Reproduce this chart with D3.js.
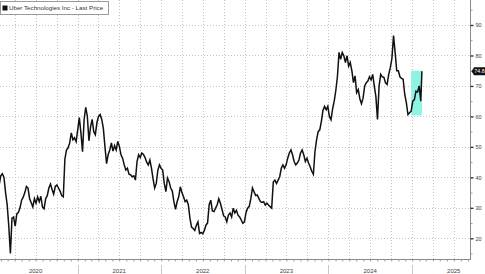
<!DOCTYPE html>
<html>
<head>
<meta charset="utf-8">
<script src="https://cdn.jsdelivr.net/npm/d3@7/dist/d3.min.js"></script>
<style>
  body { margin: 0; background: #fff; }
  svg { display: block; font-family: "Liberation Sans", Arial, sans-serif; }
</style>
</head>
<body>
<div id="chart"></div>
<script>
// weekly closes (fridays), first week = 24 jan 2020
var firstWeek = "2020-01-24";
var p2020 = [37.5, 40.5, 41.2, 40, 35, 31, 24, 15, 26.6, 27, 24, 28, 28.5, 30, 32.5, 33.5, 35, 37,
  36.5, 33, 31.7, 30.3, 33, 31.5, 33.6, 32, 33.8, 30.3, 29.7, 33, 34, 36.5, 37.8, 36, 34.5, 37,
  37.5, 36.5, 35.5, 34, 33.6, 46, 49, 49.7, 51.3, 54.6, 52.3, 53, 51.7];
var p2021 = [55.6, 59.6, 54.6, 48.4, 59, 63, 60, 52, 56.6, 59, 55, 54, 58, 60, 60.6, 59, 56, 50,
  44.5, 47.5, 49, 51.3, 48.6, 50.4, 49, 51.8, 50.1, 47.4, 46.3, 44.1, 42.4, 43, 41, 40.8, 40.2,
  40.5, 39.1, 45.2, 47.4, 46.5, 48, 47.5, 46.5, 45, 44.1, 45.7, 43, 39.5, 36.5, 38, 42.4, 44.1, 43];
var p2022 = [42.4, 38, 35.3, 39.8, 38.6, 36.5, 35.5, 32, 29.5, 32, 33.6, 36.9, 35, 33.6, 32, 32.5,
  31, 26.6, 23.7, 23.2, 22.6, 24.3, 25.4, 21.6, 21.9, 21.5, 22.6, 24.3, 25, 31, 32.5, 29, 28.8,
  29.9, 31, 33, 31.5, 29.5, 27.4, 27, 25.4, 27.6, 28.3, 27, 29.9, 28.3, 29.2, 27.6, 27, 26, 24.9, 25.4];
var p2023 = [28.5, 29.9, 30.5, 33, 36.5, 35.3, 34, 34.2, 33.1, 32, 31.8, 32, 30.9, 31.5, 30.9, 30.4,
  29.9, 38.5, 39.1, 38, 39.1, 40.2, 43, 44.1, 43, 44.1, 46.3, 48, 49, 47.4, 45.2, 44.1, 44.7, 45.7,
  48, 49, 47.4, 45.2, 46.3, 44.7, 43.5, 42, 41, 48.5, 52.3, 55, 55.6, 58.4, 62, 63.3, 62.2, 63.3];
var p2024 = [60, 58.9, 62.5, 65, 68.5, 73, 81, 78.7, 81, 79.9, 77.7, 79.9, 76.5, 77.7, 75, 71.1,
  73.3, 67.8, 68.8, 65.8, 64.2, 66, 70, 71.1, 71.6, 73, 72, 73.8, 70, 66.5, 59, 70, 73.8, 73, 72.8,
  71, 70.5, 73.8, 76, 79, 86.5, 81, 75, 75, 73, 72.5, 72.2, 67.2, 64.5, 60.6, 61.2, 61.7];
var p2025 = [65, 65.5, 68.3, 68, 70, 65];
var lastDate = "2025-02-12";
var lastPrice = 74.8;

var yTicks = [20, 30, 40, 50, 60, 70, 80, 90];
var years = [2020, 2021, 2022, 2023, 2024, 2025];
var highlightDates = ["2024-12-27", "2025-02-12"];
var highlightRange = [60.3, 75];
var seriesName = "Uber Technologies Inc - Last Price";

// dimensions
var W = 485, H = 274;
var plotRight = 470, plotBottom = 259;

var svg = d3.select("#chart")
  .append("svg")
  .attr("width", W)
  .attr("height", H);

var parse = d3.timeParse("%Y-%m-%d");
var start = parse(firstWeek);
var prices = [].concat(p2020, p2021, p2022, p2023, p2024, p2025);
var data = prices.map(function (v, i) {
  return { date: d3.timeDay.offset(start, 7 * i), value: v };
});
data.push({ date: parse(lastDate), value: lastPrice });

// scales
var x = d3.scaleTime()
  .domain([new Date(2020, 0, 1), new Date(2025, 0, 1)])
  .range([-6.1, 412.3]);
var y = d3.scaleLinear()
  .domain([20, 90])
  .range([238.3, 25]);

svg.append("clipPath").attr("id", "plot")
  .append("rect").attr("width", plotRight).attr("height", plotBottom);

// grid
var grid = svg.append("g")
  .attr("stroke", "#c4c4c4")
  .attr("stroke-width", 1)
  .attr("stroke-dasharray", "1,2");
grid.selectAll(".hg")
  .data(yTicks)
  .enter().append("line")
  .attr("x1", 0).attr("x2", plotRight)
  .attr("y1", function (d) { return Math.round(y(d)) + 0.5; })
  .attr("y2", function (d) { return Math.round(y(d)) + 0.5; });
var quarters = d3.timeMonth.every(3).range(new Date(2020, 3, 1), new Date(2025, 9, 1))
  .filter(function (d) { return x(d) > 0 && x(d) < plotRight; });
grid.selectAll(".vg")
  .data(quarters)
  .enter().append("line")
  .attr("y1", 0).attr("y2", plotBottom)
  .attr("x1", function (d) { return Math.round(x(d)) + 0.5; })
  .attr("x2", function (d) { return Math.round(x(d)) + 0.5; });

// highlighted period
svg.append("rect")
  .attr("x", x(parse(highlightDates[0])))
  .attr("width", x(parse(highlightDates[1])) - x(parse(highlightDates[0])))
  .attr("y", y(highlightRange[1]))
  .attr("height", y(highlightRange[0]) - y(highlightRange[1]))
  .attr("fill", "#8ef3e3");

// price line
svg.append("path")
  .datum(data)
  .attr("clip-path", "url(#plot)")
  .attr("fill", "none")
  .attr("stroke", "#111")
  .attr("stroke-width", 1.5)
  .attr("stroke-linejoin", "miter")
  .attr("d", d3.line()
    .x(function (d) { return x(d.date); })
    .y(function (d) { return y(d.value); }));

// right axis
svg.append("line")
  .attr("x1", plotRight + 0.5).attr("x2", plotRight + 0.5)
  .attr("y1", 0).attr("y2", plotBottom)
  .attr("stroke", "#8a8a8a");
var yAxis = svg.append("g")
  .attr("transform", "translate(" + (plotRight + 0.5) + ",0)")
  .call(d3.axisRight(y).tickValues(yTicks).tickSize(3).tickPadding(2));
yAxis.select(".domain").remove();
yAxis.selectAll(".tick line").attr("stroke", "#333").attr("stroke-width", 1.4);
yAxis.selectAll(".tick text")
  .attr("font-size", 5.6)
  .attr("font-family", "Liberation Sans, Arial, sans-serif")
  .attr("fill", "#444");
var minorY = svg.append("g")
  .attr("transform", "translate(" + (plotRight + 0.5) + ",0)")
  .call(d3.axisRight(y).tickValues(d3.range(15, 100, 10)).tickSize(2).tickFormat(""));
minorY.select(".domain").remove();
minorY.selectAll(".tick line").attr("stroke", "#999");

// bottom axis
svg.append("line")
  .attr("x1", 0).attr("x2", plotRight + 1)
  .attr("y1", plotBottom + 0.5).attr("y2", plotBottom + 0.5)
  .attr("stroke", "#8a8a8a");
var months = d3.timeMonth.every(1).range(new Date(2020, 0, 1), new Date(2025, 9, 1))
  .filter(function (d) { return x(d) > 0 && x(d) < plotRight; });
var xAxis = svg.append("g")
  .attr("transform", "translate(0," + (plotBottom + 0.5) + ")")
  .call(d3.axisBottom(x).tickValues(months).tickSize(2).tickFormat(""));
xAxis.select(".domain").remove();
xAxis.selectAll(".tick line").attr("stroke", "#999");

// year labels and separators
svg.selectAll(".ysep")
  .data(years.slice(1))
  .enter().append("line")
  .attr("x1", function (d) { return Math.round(x(new Date(d, 0, 1))) + 0.5; })
  .attr("x2", function (d) { return Math.round(x(new Date(d, 0, 1))) + 0.5; })
  .attr("y1", 265).attr("y2", 274)
  .attr("stroke", "#c8c8c8");
svg.selectAll(".ylab")
  .data(years)
  .enter().append("text")
  .attr("x", function (d) { return x(new Date(d, 6, 1)); })
  .attr("y", 272.5)
  .attr("text-anchor", "middle")
  .attr("font-size", 6)
  .attr("fill", "#444")
  .text(function (d) { return d; });

// last price tag
var ly = y(lastPrice);
svg.append("path")
  .attr("d", "M" + (plotRight + 1.5) + "," + ly + "L" + (plotRight + 4) + "," + (ly - 4) +
    "H" + W + "V" + (ly + 4) + "H" + (plotRight + 4) + "Z")
  .attr("fill", "#111");
svg.append("text")
  .attr("x", plotRight + 4.3)
  .attr("y", ly + 2)
  .attr("font-size", 5.3)
  .attr("fill", "#fff")
  .text(lastPrice.toFixed(1));

// legend
var legend = svg.append("g");
legend.append("rect")
  .attr("x", 0.5).attr("y", 1.5)
  .attr("width", 108).attr("height", 13)
  .attr("fill", "#fff")
  .attr("stroke", "#9a9a9a");
legend.append("rect")
  .attr("x", 2.5).attr("y", 5.5)
  .attr("width", 5).attr("height", 5)
  .attr("fill", "#111");
legend.append("text")
  .attr("x", 9)
  .attr("y", 10.3)
  .attr("font-size", 6.2)
  .attr("fill", "#333")
  .text(seriesName);
</script>
</body>
</html>
